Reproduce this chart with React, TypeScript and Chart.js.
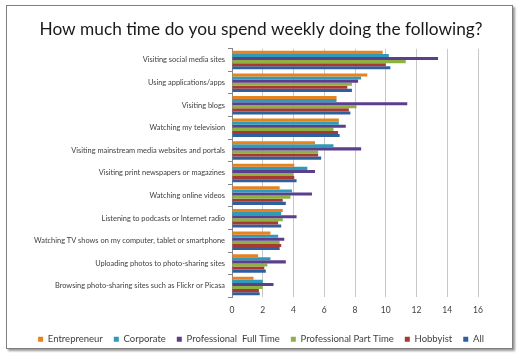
import React, { useEffect, useRef } from 'react';
import { Chart, registerables } from 'chart.js';

Chart.register(...registerables);

const categories = [
  'Visiting social media sites',
  'Using applications/apps',
  'Visiting blogs',
  'Watching my television',
  'Visiting mainstream media websites and portals',
  'Visiting print newspapers or magazines',
  'Watching online videos',
  'Listening to podcasts or Internet radio',
  'Watching TV shows on my computer, tablet or smartphone',
  'Uploading photos to photo-sharing sites',
  'Browsing photo-sharing sites such as Flickr or Picasa',
];

const entrepreneur = [9.8, 8.8, 6.8, 6.95, 5.4, 4.05, 3.1, 3.3, 2.5, 1.7, 1.4];
const corporate = [10.2, 8.4, 6.8, 6.95, 6.6, 4.9, 3.9, 3.2, 3.0, 2.5, 2.0];
const professionalFullTime = [13.4, 8.2, 11.4, 7.4, 8.4, 5.4, 5.2, 4.2, 3.4, 3.5, 2.7];
const professionalPartTime = [11.3, 7.8, 8.1, 6.6, 5.6, 4.0, 3.8, 3.3, 3.1, 2.3, 2.0];
const hobbyist = [10.0, 7.5, 7.6, 6.9, 5.6, 4.05, 3.3, 3.0, 3.2, 2.1, 1.75];
const allRespondents = [10.3, 7.8, 7.7, 7.0, 5.8, 4.2, 3.5, 3.2, 3.1, 2.2, 1.8];

const seriesNames = ['Entrepreneur', 'Corporate', 'Professional  Full Time', 'Professional Part Time', 'Hobbyist', 'All'];
const seriesColors = ['#e8821e', '#2f9bb9', '#5b3f8d', '#8fb143', '#a63a33', '#2f609e'];

const xMin = 0;
const xMax = 16;
const xStep = 2;

const FONT = 'Lato, "Open Sans", sans-serif';

export default function App() {
  const ref = useRef<HTMLCanvasElement | null>(null);

  useEffect(() => {
    if (!ref.current) return;
    const values = [entrepreneur, corporate, professionalFullTime, professionalPartTime, hobbyist, allRespondents];
    const chart = new Chart(ref.current, {
      type: 'bar',
      data: {
        labels: categories,
        datasets: values.map((d, i) => ({
          label: seriesNames[i],
          data: d,
          backgroundColor: seriesColors[i],
          borderWidth: 0,
          categoryPercentage: 0.82,
          barPercentage: 1.0,
        })),
      },
      options: {
        indexAxis: 'y',
        responsive: false,
        animation: false,
        layout: { padding: { top: 0, bottom: 8, left: 0, right: 0 } },
        plugins: {
          title: {
            display: true,
            text: 'How much time do you spend weekly doing the following?',
            color: '#1a1a1a',
            font: { family: FONT, size: 17.3, weight: 'normal' },
            padding: { top: 19.5, bottom: 8.5 },
          },
          legend: {
            position: 'bottom',
            labels: {
              boxWidth: 5,
              boxHeight: 5,
              padding: 11,
              color: '#404040',
              font: { family: FONT, size: 9.5 },
            },
          },
          tooltip: { enabled: false },
        },
        scales: {
          x: {
            type: 'linear',
            min: xMin,
            max: xMax,
            ticks: { stepSize: xStep, color: '#404040', font: { family: FONT, size: 8.5 }, padding: 8 },
            grid: { color: '#c8c8c8', drawTicks: false },
            border: { display: false },
          },
          y: {
            type: 'category',
            position: 'left',
            ticks: { color: '#404040', font: { family: FONT, size: 7.4 }, padding: 3, autoSkip: false },
            grid: { drawOnChartArea: false, tickLength: 4, color: '#868686', offset: true },
            border: { color: '#868686' },
            afterFit: (s: any) => { s.width = 232; },
          },
          yRight: {
            type: 'category',
            position: 'right',
            labels: categories,
            ticks: { display: false },
            grid: { display: false },
            border: { display: false },
            afterFit: (s: any) => { s.width = 44; },
          },
        },
      },
    } as any);
    return () => chart.destroy();
  }, []);

  return (
    <div style={{ position: 'fixed', left: 0, top: 0, width: 522, height: 362, background: '#ffffff' }}>
      <div
        style={{
          position: 'absolute',
          left: 6,
          top: 5,
          width: 505,
          height: 342,
          border: '1px solid #7f7f7f',
          boxShadow: '2px 2px 2px #9a9a9a',
        }}
      />
      <canvas ref={ref} width={522} height={362} style={{ position: 'absolute', left: 0, top: 0 }} />
    </div>
  );
}
